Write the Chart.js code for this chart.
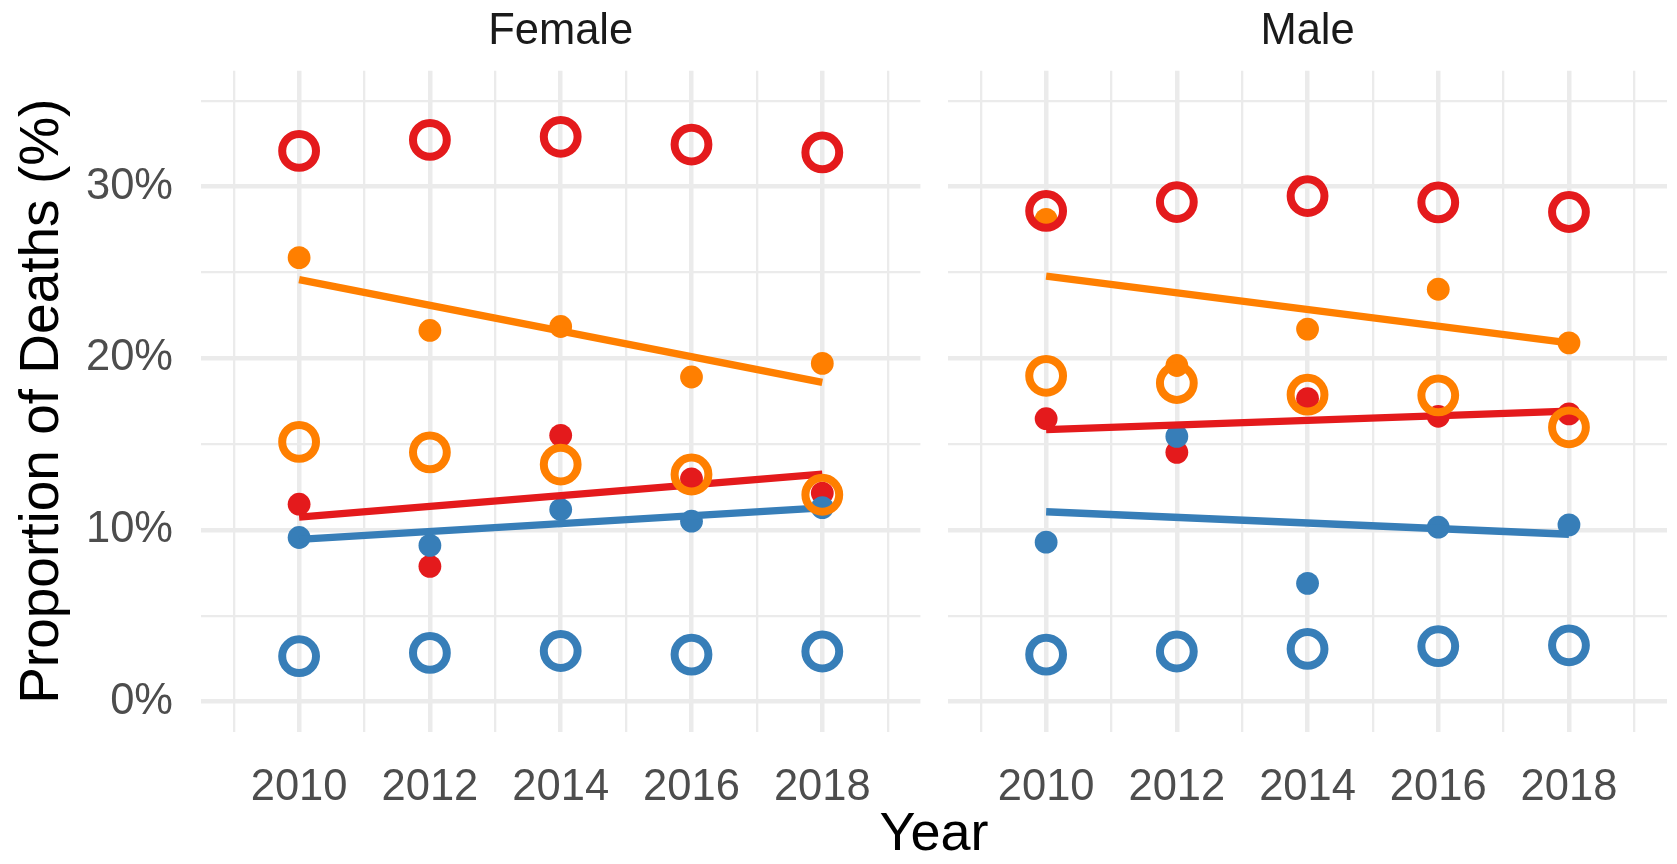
<!DOCTYPE html>
<html>
<head>
<meta charset="utf-8">
<script src="https://cdn.jsdelivr.net/npm/chart.js@4/dist/chart.umd.min.js"></script>
<style>
  html, body { margin: 0; padding: 0; background: #ffffff; }
  body { width: 1677px; height: 864px; position: relative; overflow: hidden; font-family: "Liberation Sans", Arial, sans-serif; }
  canvas { position: absolute; top: 0; }
  #cFemale { left: 0; }
  #cMale { left: 935px; }
  .lbl { position: absolute; white-space: nowrap; line-height: 1; transform: translateX(-50%); }
  #xTitle { left: 934px; top: 804px; font-size: 54px; color: #000000; }
</style>
</head>
<body>
<canvas id="cFemale" width="935" height="864"></canvas>
<canvas id="cMale" width="742" height="864"></canvas>
<div class="lbl" id="xTitle">Year</div>
<script>
// ---- Data ----
const years = [2010, 2012, 2014, 2016, 2018];
const trendYears = [2010, 2018];
const xGridYears = [2009, 2010, 2011, 2012, 2013, 2014, 2015, 2016, 2017, 2018, 2019];
const xTickLabels = ['', '2010', '', '2012', '', '2014', '', '2016', '', '2018', ''];
const yTickValues = [0, 5, 10, 15, 20, 25, 30, 35];
const yTickLabels = ['0%', '', '10%', '', '20%', '', '30%', ''];
const panelNames = ['Female', 'Male'];
const yTitle = 'Proportion of Deaths (%)';

// Female panel
const femaleRedRing    = [32.08, 32.72, 32.90, 32.45, 31.99];
const femaleOrangeRing = [15.13, 14.52, 13.81, 13.23, 12.05];
const femaleBlueRing   = [2.65, 2.84, 2.95, 2.74, 2.92];
const femaleRedDot     = [11.50, 7.88, 15.51, 12.98, 12.15];
const femaleOrangeDot  = [25.86, 21.62, 21.85, 18.91, 19.70];
const femaleBlueDot    = [9.56, 9.10, 11.19, 10.51, 11.30];
const femaleRedTrend    = [10.75, 13.25];
const femaleOrangeTrend = [24.58, 18.60];
const femaleBlueTrend   = [9.45, 11.29];

// Male panel
const maleRedRing    = [28.58, 29.10, 29.45, 29.08, 28.52];
const maleOrangeRing = [18.98, 18.56, 17.88, 17.84, 15.98];
const maleBlueRing   = [2.74, 2.92, 3.07, 3.23, 3.28];
const maleRedDot     = [16.48, 14.52, 17.65, 16.62, 16.76];
const maleOrangeDot  = [28.09, 19.58, 21.70, 24.02, 20.90];
const maleBlueDot    = [9.29, 15.45, 6.89, 10.16, 10.30];
const maleRedTrend    = [15.85, 16.92];
const maleOrangeTrend = [24.78, 20.90];
const maleBlueTrend   = [11.06, 9.75];

// ---- Styling ----
const RED = '#E41A1C', ORANGE = '#FF7F00', BLUE = '#377EB8';
const GRID = '#EBEBEB';
const FONT = '"Liberation Sans", Arial, sans-serif';

function pts(xs, ys) { return xs.map((x, i) => ({ x: x, y: ys[i] })); }

function ringDS(ys, color) {
  return { type: 'scatter', data: pts(years, ys), order: 1, clip: false,
    pointRadius: 16.9, pointHoverRadius: 16.9, pointBorderWidth: 8, pointHoverBorderWidth: 8,
    pointBackgroundColor: 'rgba(0,0,0,0)', pointBorderColor: color, showLine: false };
}
function lineDS(ys, color) {
  return { type: 'scatter', data: pts(trendYears, ys), order: 2, showLine: true, clip: false,
    borderColor: color, borderWidth: 7.3, borderCapStyle: 'butt', pointRadius: 0, pointHoverRadius: 0,
    fill: false, tension: 0 };
}
function dotDS(ys, color, order) {
  return { type: 'scatter', data: pts(years, ys), order: order, clip: false,
    pointRadius: 11.4, pointHoverRadius: 11.4, pointBorderWidth: 0,
    pointBackgroundColor: color, pointBorderColor: color, showLine: false };
}

const stripPlugin = {
  id: 'strip',
  afterDraw(chart, args, opts) {
    const ctx = chart.ctx, a = chart.chartArea;
    ctx.save();
    ctx.font = '43.5px ' + FONT;
    ctx.fillStyle = '#1A1A1A';
    ctx.textAlign = 'center';
    ctx.textBaseline = 'alphabetic';
    ctx.fillText(opts.text, (a.left + a.right) / 2, 44);
    ctx.restore();
  }
};

function makePanel(id, name, sets, isLeft) {
  const padLeft = isLeft ? 0 : 13.1;
  const padRight = isLeft ? 14.6 : 10;
  return new Chart(document.getElementById(id), {
    type: 'scatter',
    data: { datasets: [
      ringDS(sets.redRing, RED), ringDS(sets.orangeRing, ORANGE), ringDS(sets.blueRing, BLUE),
      lineDS(sets.redTrend, RED), lineDS(sets.orangeTrend, ORANGE), lineDS(sets.blueTrend, BLUE),
      dotDS(sets.blueDot, BLUE, 3), dotDS(sets.orangeDot, ORANGE, 4), dotDS(sets.redDot, RED, 5)
    ] },
    plugins: [stripPlugin],
    options: {
      responsive: false, animation: false, devicePixelRatio: 1,
      events: [],
      layout: { autoPadding: false, padding: { top: 70.7, bottom: 0, left: padLeft, right: padRight } },
      plugins: { legend: { display: false }, tooltip: { enabled: false }, title: { display: false },
        strip: { text: name } },
      scales: {
        x: {
          type: 'linear', min: 2008.5, max: 2019.5,
          afterBuildTicks: s => { s.ticks = xGridYears.map(v => ({ value: v })); },
          afterFit: s => { s.height = 132.3; },
          border: { display: false },
          grid: { color: GRID, drawTicks: false,
            lineWidth: c => (c.tick && c.tick.value % 2 === 0) ? 4.5 : 2.3 },
          ticks: { autoSkip: false, maxRotation: 0, padding: 30, color: '#4D4D4D',
            font: { family: FONT, size: 43.5 },
            callback: (v) => { const i = xGridYears.indexOf(v); return i >= 0 ? xTickLabels[i] : ''; } }
        },
        y: {
          type: 'linear', min: -1.75, max: 36.75,
          afterBuildTicks: s => { s.ticks = yTickValues.map(v => ({ value: v })); },
          afterFit: s => { s.width = isLeft ? 201 : 0; },
          border: { display: false },
          grid: { color: GRID, drawTicks: false,
            lineWidth: c => (c.tick && c.tick.value % 10 === 0) ? 4.5 : 2.3 },
          ticks: { display: isLeft, padding: 28, color: '#4D4D4D',
            font: { family: FONT, size: 43.5 },
            callback: (v) => { const i = yTickValues.indexOf(v); return i >= 0 ? yTickLabels[i] : ''; } },
          title: { display: isLeft, text: yTitle, color: '#000000',
            font: { family: FONT, size: 55 }, padding: { top: 10, bottom: 0 } }
        }
      }
    }
  });
}

makePanel('cFemale', panelNames[0], {
  redRing: femaleRedRing, orangeRing: femaleOrangeRing, blueRing: femaleBlueRing,
  redDot: femaleRedDot, orangeDot: femaleOrangeDot, blueDot: femaleBlueDot,
  redTrend: femaleRedTrend, orangeTrend: femaleOrangeTrend, blueTrend: femaleBlueTrend
}, true);
makePanel('cMale', panelNames[1], {
  redRing: maleRedRing, orangeRing: maleOrangeRing, blueRing: maleBlueRing,
  redDot: maleRedDot, orangeDot: maleOrangeDot, blueDot: maleBlueDot,
  redTrend: maleRedTrend, orangeTrend: maleOrangeTrend, blueTrend: maleBlueTrend
}, false);
</script>
</body>
</html>
